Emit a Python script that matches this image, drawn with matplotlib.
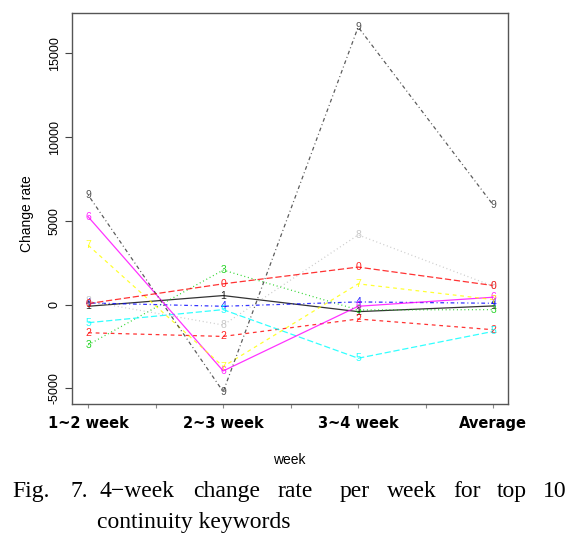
import numpy as np
import matplotlib.pyplot as plt

# data (change rate per keyword)
weeks = ["1~2 week", "2~3 week", "3~4 week", "Average"]
labels = ["1", "2", "3", "4", "5", "6", "7", "8", "9", "0"]
s1 = [-100, 540, -420, -80]
s2 = [-1680, -1900, -860, -1500]
s3 = [-2400, 2060, -320, -300]
s4 = [100, -100, 160, 80]
s5 = [-1080, -300, -3200, -1600]
s6 = [5240, -3960, -100, 440]
s7 = [3540, -3700, 1240, 300]
s8 = [200, -1220, 4160, 1100]
s9 = [6540, -5200, 16570, 5950]
s0 = [60, 1240, 2240, 1140]
series = [s1, s2, s3, s4, s5, s6, s7, s8, s9, s0]

# R default palette / line types, recycled like matplot
colors = ["black", "#FF0000", "#00CD00", "#0000FF", "#00FFFF",
          "#FF00FF", "#FFFF00", "#BEBEBE", "#333333", "#FF0000"]
dashes = [(), (3, 3), (0.8, 2.2), (0.8, 2.2, 3, 2.2), (5, 2.2)]

fig = plt.figure(figsize=(5.87, 5.35), dpi=100)
ax = fig.add_axes([72 / 587, 1 - 404 / 535, 436 / 587, 391 / 535])

x = np.arange(1, len(weeks) + 1)
for i, (vals, lab) in enumerate(zip(series, labels)):
    d = dashes[i % 5]
    ln, = ax.plot(x, vals, color=colors[i], lw=0.9, alpha=0.8)
    if d:
        ln.set_dashes(d)
    for xi, v in zip(x, vals):
        ax.text(xi, v, lab, color=colors[i], fontsize=7.5, ha="center",
                va="center", family="Liberation Sans", alpha=0.85)

ax.set_xlim(0.88, 4.11)
ax.set_ylim(-5934, 17409)
ax.set_yticks([-5000, 0, 5000, 10000, 15000])
ax.set_yticklabels(["-5000", "0", "5000", "10000", "15000"], rotation=90,
                   va="center", family="Liberation Sans", fontsize=9)
xt = np.arange(1, 4.01, 0.5)
ax.set_xticks(xt)
ax.set_xticklabels([weeks[int(t) - 1] if t == int(t) else "" for t in xt])
for t in ax.get_xticklabels():
    t.set_fontfamily("DejaVu Sans")
    t.set_fontweight("bold")
    t.set_fontsize(10.5)
    t.set_verticalalignment("baseline")
ax.tick_params(axis="y", length=5, pad=3, color="#444444")
ax.tick_params(axis="x", length=3, pad=14, color="#888888")
for sp in ax.spines.values():
    sp.set_color("#555555")
    sp.set_linewidth(1.0)

fig.text(27 / 587, 1 - 214 / 535, "Change rate", rotation=90, ha="center",
         va="center", fontsize=10, family="Liberation Sans")
fig.text(289 / 587, 1 - 460 / 535, "week", ha="center", va="center",
         fontsize=10, family="Liberation Sans")

# caption, word by word to mimic the justified line
cap1 = ["Fig.", "7.", "4\u2212week", "change", "rate", "per", "week", "for", "top", "10"]
cap1_x = [12, 70, 100, 193, 278, 340, 387, 453, 497, 543]
for w, px in zip(cap1, cap1_x):
    fig.text(px / 587, 1 - 497 / 535, w, ha="left", va="baseline",
             fontsize=17, family="Liberation Serif")
fig.text(97 / 587, 1 - 528 / 535, "continuity keywords", ha="left",
         va="baseline", fontsize=17, family="Liberation Serif")

fig.savefig("out.png", dpi=100)
